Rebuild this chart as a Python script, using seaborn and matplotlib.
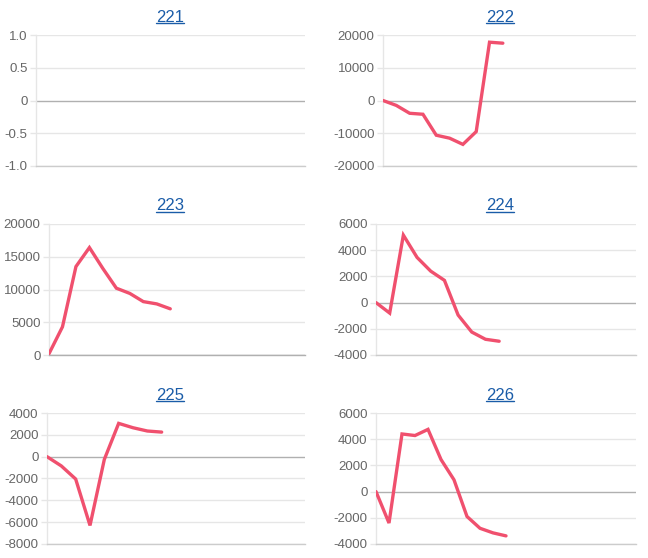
import matplotlib
matplotlib.use("Agg")
import matplotlib.pyplot as plt
import seaborn as sns
import numpy as np
import pandas as pd
from matplotlib.lines import Line2D
from matplotlib.ticker import FuncFormatter

# ---- data ----
titles = ["221", "222", "223", "224", "225", "226"]
s221 = []
s222 = [0, -1500, -3900, -4200, -10600, -11500, -13400, -9500, 17800, 17500]
s223 = [200, 4300, 13500, 16400, 13200, 10200, 9400, 8150, 7800, 7050]
s224 = [0, -800, 5150, 3450, 2400, 1700, -950, -2250, -2800, -2950]
s225 = [0, -850, -2050, -6300, -250, 3050, 2650, 2350, 2250]
s226 = [0, -2400, 4400, 4280, 4750, 2450, 900, -1900, -2800, -3150, -3380]
series = [s221, s222, s223, s224, s225, s226]

y_ticks = [
    [-1.0, -0.5, 0, 0.5, 1.0],
    [-20000, -10000, 0, 10000, 20000],
    [0, 5000, 10000, 15000, 20000],
    [-4000, -2000, 0, 2000, 4000, 6000],
    [-8000, -6000, -4000, -2000, 0, 2000, 4000],
    [-4000, -2000, 0, 2000, 4000, 6000],
]
x_slots = [20, 20, 20, 20, 19, 21]

# ---- layout (pixel boxes: left, top, right, bottom) ----
W, H = 648, 558
boxes = [
    (36, 35, 305, 166), (383, 35, 636, 166),
    (49, 224, 305, 355), (376, 224, 636, 355),
    (47, 413, 305, 544), (376, 413, 636, 544),
]
title_pos = [(170, 17), (500, 17), (170, 206), (500, 206), (170, 395), (500, 395)]

sns.set_theme(style="white")
plt.rcParams["font.family"] = ["Liberation Sans", "DejaVu Sans"]

LINE = "#f0506e"
GRID = "#e6e6e6"
ZERO = "#b0b0b0"
LAB = "#666666"
TITLE = "#1a5ca8"

fig = plt.figure(figsize=(W / 100, H / 100), dpi=100)
fig.patch.set_facecolor("white")


def fmt(v, _):
    if abs(v) < 1e-9:
        return "0"
    if float(v).is_integer() and abs(v) >= 10:
        return f"{int(v)}"
    return f"{v:.1f}"


axes = []
for i, (l, t, r, b) in enumerate(boxes):
    ax = fig.add_axes([l / W, 1 - b / H, (r - l) / W, (b - t) / H])
    axes.append(ax)
    vals = series[i]
    if len(vals):
        df = pd.DataFrame({"x": np.arange(len(vals)), "y": vals})
        sns.lineplot(data=df, x="x", y="y", ax=ax, color=LINE, linewidth=2.4,
                     solid_joinstyle="miter", zorder=5)
    ax.set_xlim(0, x_slots[i] - 1)
    yt = y_ticks[i]
    ax.set_ylim(yt[0], yt[-1])
    ax.set_yticks(yt)
    ax.yaxis.set_major_formatter(FuncFormatter(fmt))
    ax.set_xticks([])
    ax.set_xlabel("")
    ax.set_ylabel("")
    for v in yt:
        ax.axhline(v, color=ZERO if v == 0 else GRID, linewidth=1.0, zorder=1)
    for s in ["top", "right"]:
        ax.spines[s].set_visible(False)
    ax.spines["left"].set_color(GRID)
    ax.spines["left"].set_linewidth(1.0)
    ax.spines["bottom"].set_color("#cccccc" if yt[0] != 0 else ZERO)
    ax.spines["bottom"].set_linewidth(1.0)
    ax.tick_params(axis="y", length=4, width=1, color=GRID, pad=2,
                   labelsize=9.5, labelcolor=LAB, left=True)
    ax.set_facecolor("white")

# titles with underline
fig.canvas.draw()
renderer = fig.canvas.get_renderer()
for i, (tx, ty) in enumerate(title_pos):
    txt = fig.text(tx / W, 1 - ty / H, titles[i], ha="center", va="center",
                   fontsize=12, color=TITLE)
    bb = txt.get_window_extent(renderer=renderer)
    yline = bb.y0 + 0.12 * bb.height
    fig.add_artist(Line2D([bb.x0 / W, bb.x1 / W], [yline / H, yline / H],
                          transform=fig.transFigure, color=TITLE, linewidth=1.0))

fig.savefig("out.png", dpi=100, facecolor="white")
